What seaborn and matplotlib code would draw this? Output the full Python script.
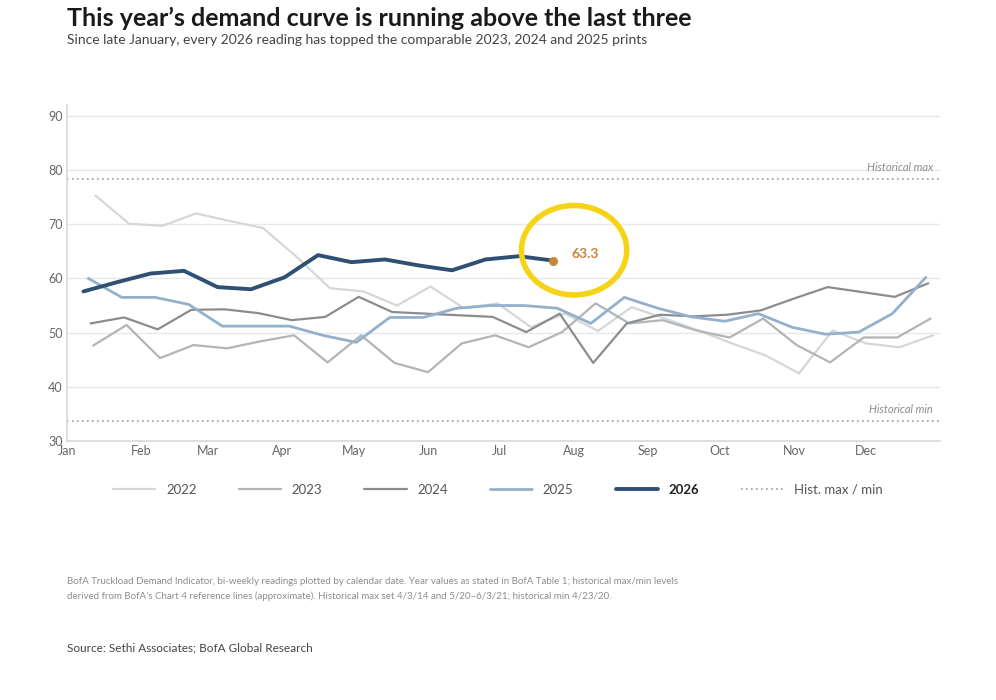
import matplotlib
matplotlib.use("Agg")
import matplotlib.pyplot as plt
import seaborn as sns
import pandas as pd
from matplotlib.patches import Ellipse
from matplotlib.lines import Line2D

sns.set_theme(style="white")
plt.rcParams["font.family"] = ["Lato", "DejaVu Sans"]

# ========== data (bi-weekly readings, x = day of year) ==========
years = ["2022", "2023", "2024", "2025", "2026"]
start_days = {"2022": 12, "2023": 11, "2024": 10, "2025": 9, "2026": 7}
v2022 = [75.3, 70.1, 69.7, 72.0, 70.6, 69.3, 64.0, 58.2, 57.6, 55.0, 58.5, 54.5, 55.4,
         51.0, 53.5, 50.3, 54.7, 52.6, 50.4, 48.0, 45.8, 42.5, 50.4, 48.0, 47.3, 49.5]
v2023 = [47.6, 51.4, 45.3, 47.7, 47.1, 48.4, 49.5, 44.5, 49.5, 44.4, 42.7, 48.0, 49.5,
         47.3, 50.1, 55.4, 51.7, 52.3, 50.4, 49.1, 52.6, 47.7, 44.5, 49.1, 49.1, 52.6]
v2024 = [51.7, 52.8, 50.6, 54.2, 54.3, 53.6, 52.3, 52.9, 56.6, 53.8, 53.5, 53.2, 52.9,
         50.1, 53.5, 44.4, 51.7, 53.3, 53.0, 53.3, 54.1, 56.3, 58.4, 57.5, 56.6, 59.1]
v2025 = [60.0, 56.5, 56.5, 55.2, 51.2, 51.2, 51.2, 49.5, 48.2, 52.8, 52.8, 54.5, 55.0,
         55.0, 54.5, 51.7, 56.5, 54.5, 52.9, 52.1, 53.5, 51.0, 49.7, 50.1, 53.5, 60.2]
v2026 = [57.6, 59.3, 60.9, 61.4, 58.4, 58.0, 60.2, 64.3, 63.0, 63.5, 62.4, 61.5, 63.5, 64.1, 63.3]
values = {"2022": v2022, "2023": v2023, "2024": v2024, "2025": v2025, "2026": v2026}
hist_max, hist_min = 78.3, 33.7

colors = {"2022": "#d4d7da", "2023": "#b2b5b8", "2024": "#8a8d90", "2025": "#94b1cc", "2026": "#2f4f74"}
widths = {"2022": 1.6, "2023": 1.6, "2024": 1.6, "2025": 2.0, "2026": 2.8}

month_days = [0, 31, 59, 90, 120, 151, 181, 212, 243, 273, 304, 334]
month_labels = ["Jan", "Feb", "Mar", "Apr", "May", "Jun", "Jul", "Aug", "Sep", "Oct", "Nov", "Dec"]

rows = []
for y in years:
    for i, v in enumerate(values[y]):
        rows.append({"year": y, "day": start_days[y] + 14 * i, "value": v})
df = pd.DataFrame(rows)

fig = plt.figure(figsize=(9.96, 7), dpi=100)
ax = fig.add_axes([0.067, 0.37, 0.877, 0.48])

for y in years:
    d = df[df["year"] == y]
    sns.lineplot(data=d, x="day", y="value", color=colors[y], linewidth=widths[y], ax=ax,
                 zorder=3 if y == "2026" else 2)

last = df[df["year"] == "2026"].iloc[-1]
ax.scatter([last["day"]], [last["value"]], s=30, color="#c8843a", zorder=5)
ax.text(last["day"] + 8, last["value"] + 1.2, f"{last['value']:.1f}", color="#c8843a",
        fontsize=10, fontweight="bold", va="center")
ax.add_patch(Ellipse((last["day"] + 9, 65.2), 44, 16.5, fill=False, edgecolor="#f5d417",
                     linewidth=4, zorder=6))

ax.axhline(hist_max, color="#9a9da0", linestyle=(0, (1, 2)), linewidth=1.2)
ax.axhline(hist_min, color="#9a9da0", linestyle=(0, (1, 2)), linewidth=1.2)
ax.text(362, hist_max + 1.5, "Historical max", ha="right", fontsize=8, style="italic", color="#8a8d90")
ax.text(362, hist_min + 1.5, "Historical min", ha="right", fontsize=8, style="italic", color="#8a8d90")

ax.set_xlim(0, 365)
ax.set_ylim(30, 92)
ax.set_yticks([30, 40, 50, 60, 70, 80, 90])
ax.set_xticks(month_days)
ax.set_xticklabels(month_labels)
ax.tick_params(colors="#666666", labelsize=9, length=0, pad=3)
ax.set_xlabel("")
ax.set_ylabel("")
ax.grid(axis="y", color="#e6e8ea", linewidth=1)
for s in ["top", "right"]:
    ax.spines[s].set_visible(False)
for s in ["left", "bottom"]:
    ax.spines[s].set_color("#d8dadc")

handles = [Line2D([], [], color=colors[y], linewidth=widths[y]) for y in years]
handles.append(Line2D([], [], color="#9a9da0", linestyle=(0, (1, 2)), linewidth=1.2))
labels = years + ["Hist. max / min"]
leg = fig.legend(handles, labels, loc="center", bbox_to_anchor=(0.5, 0.30), ncol=6,
                 frameon=False, fontsize=9.5, handlelength=3.2, columnspacing=3.2)
for t in leg.get_texts():
    t.set_color("#555555")
leg.get_texts()[4].set_fontweight("bold")
leg.get_texts()[4].set_color("#222222")

fig.text(0.067, 0.99, "This year\u2019s demand curve is running above the last three",
         fontsize=18, fontweight="bold", color="#1a1a1a", va="top")
fig.text(0.067, 0.952, "Since late January, every 2026 reading has topped the comparable 2023, 2024 and 2025 prints",
         fontsize=10, color="#444444", va="top")
fig.text(0.067, 0.175, "BofA Truckload Demand Indicator, bi-weekly readings plotted by calendar date. Year values as stated in BofA Table 1; historical max/min levels\n"
         "derived from BofA\u2019s Chart 4 reference lines (approximate). Historical max set 4/3/14 and 5/20\u20136/3/21; historical min 4/23/20.",
         fontsize=7, color="#8a8d90", va="top", linespacing=1.6)
fig.text(0.067, 0.075, "Source: Sethi Associates; BofA Global Research", fontsize=8.5, color="#444444", va="center")

fig.savefig("out.png", dpi=100, facecolor="white")
